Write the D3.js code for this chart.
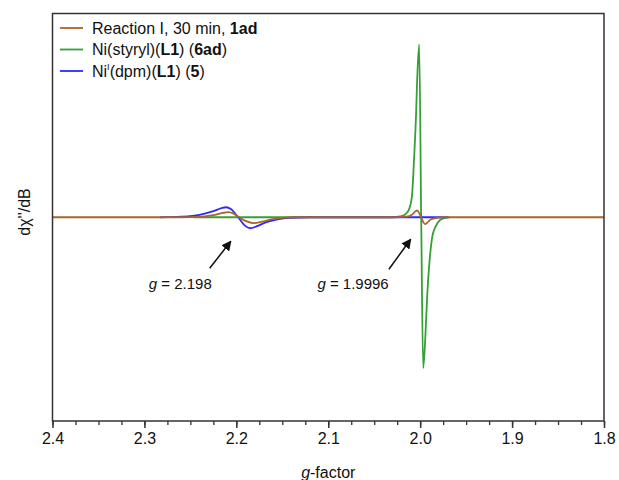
<!DOCTYPE html>
<html>
<head>
<meta charset="utf-8">
<script src="https://cdn.jsdelivr.net/npm/d3@7"></script>
<style>
body { margin: 0; background: #fff; }
text { font-family: Arial, "Liberation Sans", sans-serif; }
</style>
</head>
<body>
<script>
// reaction I (brown), g-factor / intensity
var reactionG = [2.4, 2.26, 2.24, 2.225, 2.215, 2.2087, 2.203, 2.197, 2.19, 2.1815, 2.172, 2.162, 2.15, 2.135,
                 2.03, 2.015, 2.009, 2.005, 2.0033, 2.001, 1.999, 1.997, 1.9946, 1.992, 1.988, 1.982, 1.975, 1.8];
var reactionY = [0, 0, 0.002, 0.01, 0.021, 0.025, 0.018, 0, -0.018, -0.029, -0.022, -0.011, -0.003, 0,
                 0, 0.003, 0.012, 0.03, 0.034, 0.02, 0, -0.02, -0.034, -0.025, -0.01, -0.003, 0, 0];

// Ni(styryl)(L1) (green)
var styrylG = [2.247, 2.03, 2.022, 2.016, 2.012, 2.009, 2.0065, 2.0045, 2.0033, 2.0011, 1.9989, 1.9967, 1.9945,
               1.9924, 1.990, 1.987, 1.9837, 1.978, 1.972, 1.968];
var styrylY = [0, 0, 0.004, 0.015, 0.04, 0.1, 0.3, 0.5, 0.67, 0.848, 0, -0.74, -0.6,
               -0.39, -0.225, -0.1, -0.05, -0.012, -0.002, 0];

// Ni(I)(dpm)(L1) (blue)
var dpmG = [2.283, 2.26, 2.24, 2.225, 2.216, 2.211, 2.206, 2.198, 2.191, 2.185, 2.178, 2.168, 2.155, 2.143, 2.12, 1.97];
var dpmY = [0, 0.003, 0.012, 0.03, 0.045, 0.049, 0.04, 0, -0.04, -0.054, -0.045, -0.025, -0.01, -0.003, 0, 0];

var xTicks = [2.4, 2.3, 2.2, 2.1, 2.0, 1.9, 1.8];

var noteLabels = ["2.198", "1.9996"];
var noteTail = [[2.229, -0.25], [2.034, -0.255]];
var noteHead = [[2.206, -0.118], [2.0103, -0.108]];
var noteText = [[2.261, -0.35], [2.073, -0.35]];

var W = 619, H = 480;
var mLeft = 52.5, mRight = 604, mTop = 13.5, mBottom = 421;

var svg = d3.select("body").append("svg")
	.attr("width", W)
	.attr("height", H);

var x = d3.scaleLinear().domain([2.4, 1.8]).range([mLeft, mRight]);
var y = d3.scaleLinear().domain([-1, 1]).range([mBottom, mTop]);

var line = d3.line()
	.x(function (d) { return x(d[0]); })
	.y(function (d) { return y(d[1]); })
	.curve(d3.curveMonotoneX);

var series = [
	{g: styrylG, v: styrylY, color: "#35a035"},
	{g: dpmG, v: dpmY, color: "#2a2aff"},
	{g: reactionG, v: reactionY, color: "#aa6428"}
];

var defs = svg.append("defs");
defs.append("clipPath").attr("id", "clip")
	.append("rect").attr("x", mLeft).attr("y", mTop).attr("width", mRight - mLeft).attr("height", mBottom - mTop);

var plot = svg.append("g").attr("clip-path", "url(#clip)");
series.forEach(function (s) {
	var pts = s.g.map(function (g, i) { return [g, s.v[i]]; });
	plot.append("path")
		.attr("d", line(pts))
		.attr("fill", "none")
		.attr("stroke", s.color)
		.attr("stroke-width", 1.8);
});

// frame
svg.append("rect")
	.attr("x", mLeft).attr("y", mTop)
	.attr("width", mRight - mLeft).attr("height", mBottom - mTop)
	.attr("fill", "none").attr("stroke", "#333").attr("stroke-width", 1.5);

// bottom axis
var minor = d3.range(0, 25).map(function (i) { return 2.4 - i * 0.025; });
var axis = svg.append("g").attr("transform", "translate(0," + mBottom + ")")
	.call(d3.axisBottom(x).tickValues(minor).tickSize(4).tickFormat(""));
axis.select(".domain").remove();
axis.selectAll("line").attr("stroke", "#333").attr("stroke-width", 1.3);

var major = svg.append("g").attr("transform", "translate(0," + mBottom + ")")
	.call(d3.axisBottom(x).tickValues(xTicks).tickSize(7).tickPadding(5).tickFormat(d3.format(".1f")));
major.select(".domain").remove();
major.selectAll("line").attr("stroke", "#333").attr("stroke-width", 1.5);
major.selectAll("text").attr("font-size", 16).attr("fill", "#111")
	.attr("font-family", "Arial, 'Liberation Sans', sans-serif");

// axis titles
var xt = svg.append("text")
	.attr("x", (mLeft + mRight) / 2).attr("y", 478)
	.attr("text-anchor", "middle").attr("font-size", 16).attr("fill", "#111");
xt.append("tspan").attr("font-style", "italic").text("g");
xt.append("tspan").text("-factor");

svg.append("text")
	.attr("transform", "translate(30,212) rotate(-90)")
	.attr("text-anchor", "middle").attr("font-size", 16).attr("fill", "#111")
	.text("dχ''/dB");

// legend
var legend = [
	[{t: "Reaction I, 30 min, "}, {t: "1ad", b: true}],
	[{t: "Ni(styryl)("}, {t: "L1", b: true}, {t: ") ("}, {t: "6ad", b: true}, {t: ")"}],
	[{t: "Ni"}, {t: "I", sup: true}, {t: "(dpm)("}, {t: "L1", b: true}, {t: ") ("}, {t: "5", b: true}, {t: ")"}]
];
var legendColors = ["#aa6428", "#35a035", "#2a2aff"];
legend.forEach(function (parts, i) {
	var ly = 28 + i * 21.5;
	svg.append("line")
		.attr("x1", 60).attr("x2", 83).attr("y1", ly).attr("y2", ly)
		.attr("stroke", legendColors[i]).attr("stroke-width", 1.8);
	var t = svg.append("text").attr("x", 92).attr("y", ly + 5.5)
		.attr("font-size", 16).attr("fill", "#111");
	parts.forEach(function (p, j) {
		var sp = t.append("tspan").text(p.t);
		if (p.b) sp.attr("font-weight", "bold");
		if (p.sup) sp.attr("font-size", 9).attr("dy", -7);
		if (j > 0 && parts[j - 1].sup) sp.attr("dy", 7);
	});
});

// annotations
defs.append("marker")
	.attr("id", "arrow").attr("viewBox", "0 0 10 10")
	.attr("refX", 9).attr("refY", 5)
	.attr("markerWidth", 10).attr("markerHeight", 10)
	.attr("markerUnits", "userSpaceOnUse")
	.attr("orient", "auto")
	.append("path").attr("d", "M0,0 L10,5 L0,10 Z").attr("fill", "#111");

noteLabels.forEach(function (lab, i) {
	svg.append("line")
		.attr("x1", x(noteTail[i][0])).attr("y1", y(noteTail[i][1]))
		.attr("x2", x(noteHead[i][0])).attr("y2", y(noteHead[i][1]))
		.attr("stroke", "#111").attr("stroke-width", 1.5)
		.attr("marker-end", "url(#arrow)");
	var t = svg.append("text")
		.attr("x", x(noteText[i][0])).attr("y", y(noteText[i][1]))
		.attr("text-anchor", "middle").attr("font-size", 15).attr("fill", "#111");
	t.append("tspan").attr("font-style", "italic").text("g");
	t.append("tspan").text(" = " + lab);
});
</script>
</body>
</html>
